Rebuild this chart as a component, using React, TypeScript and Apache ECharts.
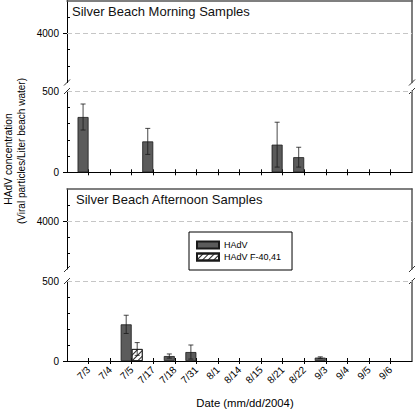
import React, { useEffect, useRef } from 'react';
import * as echarts from 'echarts';

// ---------- data ----------
const CATEGORIES = ['7/3', '7/4', '7/5', '7/17', '7/18', '7/31', '8/1', '8/14', '8/15', '8/21', '8/22', '9/3', '9/4', '9/5', '9/6'];
const SERIES_NAMES = ['HAdV', 'HAdV F-40,41'];

const MORNING_HADV = [340, null, null, 190, null, null, null, null, null, 170, 93, null, null, null, null];
const MORNING_HADV_ERR = [80, null, null, 80, null, null, null, null, null, 138, 61, null, null, null, null];
const MORNING_F = [null, null, null, null, null, null, null, null, null, null, null, null, null, null, null];
const MORNING_F_ERR = [null, null, null, null, null, null, null, null, null, null, null, null, null, null, null];

const AFTERNOON_HADV = [null, null, 229, null, 31, 56, null, null, null, null, null, 21, null, null, null];
const AFTERNOON_HADV_ERR = [null, null, 57, null, 13, 44, null, null, null, null, null, 5, null, null, null];
const AFTERNOON_F = [null, null, 75, null, null, null, null, null, null, null, null, null, null, null, null];
const AFTERNOON_F_ERR = [null, null, 40, null, null, null, null, null, null, null, null, null, null, null, null];

const PANEL_TITLES = ['Silver Beach Morning Samples', 'Silver Beach Afternoon Samples'];

// axis scales (broken axis: upper and lower segments)
const UPPER_MIN = 2500;
const UPPER_MAX = 5000;
const UPPER_INTERVAL = 500;
const UPPER_MINOR_TICKS = [3000, 3500, 4000, 4500];
const UPPER_MAJOR = [4000];
const LOWER_MIN = 0;
const LOWER_MAX = 500;
const LOWER_INTERVAL = 100;
const LOWER_MINOR_TICKS = [100, 200, 300, 400];
const LOWER_MAJOR = [0, 500];

const Y_TITLE_1 = 'HAdV concentration';
const Y_TITLE_2 = '(Viral particles/Liter beach water)';
const X_TITLE = 'Date (mm/dd/2004)';

// ---------- layout / style ----------
const W = 416;
const H = 409;
const LEFT = 67;
const RIGHT = 4;
const PANELS = [
  { upperTop: 0.5, upperHeight: 82, lowerTop: 91, lowerHeight: 81.3, titleTop: 4.5, titleLeft: 72 },
  { upperTop: 189, upperHeight: 80, lowerTop: 281, lowerHeight: 80, titleTop: 192.5, titleLeft: 76 },
];
const FONT = '"Liberation Sans", Arial, Helvetica, sans-serif';
const FRAME = '#555';
const BAR_W = 11;
const GRID_DASH = { type: [5, 3] as any, color: '#c6c6c6', width: 1 };

const pad = (arr: (number | null)[]) => [null, ...arr, null];
const PAD_CATS = ['', ...CATEGORIES, ''];

const errData = (vals: (number | null)[], errs: (number | null)[]) => {
  const out: number[][] = [];
  vals.forEach((v, i) => {
    const e = errs[i];
    if (v != null && e != null) out.push([i + 1, v - e, v + e]);
  });
  return out;
};

const makeErrRender = (sign: number) => (params: any, api: any) => {
  const x = api.value(0);
  const lo = api.coord([x, api.value(1)]);
  const hi = api.coord([x, api.value(2)]);
  const cx = lo[0] + (sign * BAR_W) / 2;
  const cap = 2.5;
  const style = { stroke: '#1a1a1a', lineWidth: 0.8 };
  return {
    type: 'group',
    children: [
      { type: 'line', shape: { x1: cx, y1: hi[1], x2: cx, y2: lo[1] }, style },
      { type: 'line', shape: { x1: cx - cap, y1: hi[1], x2: cx + cap, y2: hi[1] }, style },
      { type: 'line', shape: { x1: cx - cap, y1: lo[1], x2: cx + cap, y2: lo[1] }, style },
    ],
  };
};

function buildOption() {
  const grid: any[] = [];
  const xAxis: any[] = [];
  const yAxis: any[] = [];
  const series: any[] = [];
  const title: any[] = [];
  const graphic: any[] = [];

  const data = [
    { hadv: MORNING_HADV, hadvErr: MORNING_HADV_ERR, f: MORNING_F, fErr: MORNING_F_ERR },
    { hadv: AFTERNOON_HADV, hadvErr: AFTERNOON_HADV_ERR, f: AFTERNOON_F, fErr: AFTERNOON_F_ERR },
  ];

  const tickFilter = (index: number) => index !== 0 && index !== PAD_CATS.length - 1;
  const catBase = { type: 'category', data: PAD_CATS, boundaryGap: false, splitLine: { show: false } };
  const labelStyle = { fontSize: 10, fontFamily: FONT, color: '#000' };
  const plain = (v: number) => String(v);

  PANELS.forEach((p, pi) => {
    const gU = 2 * pi;
    const gL = 2 * pi + 1;
    grid.push({ left: LEFT, right: RIGHT, top: p.upperTop, height: p.upperHeight });
    grid.push({ left: LEFT, right: RIGHT, top: p.lowerTop, height: p.lowerHeight });

    const xU = xAxis.length;
    xAxis.push({
      ...catBase, gridIndex: gU, position: 'top',
      axisLine: { show: true, onZero: false, lineStyle: { color: FRAME, width: 1.5 } },
      axisTick: { show: false }, axisLabel: { show: false },
    });
    const xL = xAxis.length;
    xAxis.push({
      ...catBase, gridIndex: gL, position: 'bottom',
      axisLine: { show: true, onZero: false, lineStyle: { color: '#000', width: 1 } },
      axisTick: { show: true, inside: false, length: 3, interval: tickFilter, lineStyle: { color: '#000' } },
      axisLabel: pi === 1
        ? { show: true, interval: 0, rotate: 45, margin: 7, ...labelStyle }
        : { show: false },
    });
    xAxis.push({
      ...catBase, gridIndex: gL, position: 'bottom',
      axisLine: { show: false, onZero: false },
      axisTick: { show: true, inside: true, length: 3, interval: tickFilter, lineStyle: { color: '#000' } },
      axisLabel: { show: false },
    });

    const yU = yAxis.length;
    yAxis.push({
      type: 'value', gridIndex: gU, position: 'left', min: UPPER_MIN, max: UPPER_MAX, interval: UPPER_INTERVAL,
      axisLine: { show: true, onZero: false, lineStyle: { color: '#000', width: 1 } },
      axisTick: { show: true, inside: true, length: 3, customValues: UPPER_MINOR_TICKS, lineStyle: { color: '#000' } },
      axisLabel: { show: true, customValues: UPPER_MAJOR, margin: 8, formatter: plain, ...labelStyle },
      splitLine: { show: false },
    });
    yAxis.push({
      type: 'value', gridIndex: gU, position: 'left', min: UPPER_MIN, max: UPPER_MAX, interval: UPPER_INTERVAL,
      axisLine: { show: false, onZero: false },
      axisTick: { show: true, inside: false, length: 4, customValues: UPPER_MAJOR, lineStyle: { color: '#000' } },
      axisLabel: { show: false }, splitLine: { show: false },
    });
    yAxis.push({
      type: 'value', gridIndex: gU, position: 'right', min: UPPER_MIN, max: UPPER_MAX, interval: UPPER_INTERVAL,
      axisLine: { show: true, onZero: false, lineStyle: { color: FRAME, width: 1.5 } },
      axisTick: { show: false }, axisLabel: { show: false }, splitLine: { show: false },
    });
    const yL = yAxis.length;
    yAxis.push({
      type: 'value', gridIndex: gL, position: 'left', min: LOWER_MIN, max: LOWER_MAX, interval: LOWER_INTERVAL,
      axisLine: { show: true, onZero: false, lineStyle: { color: '#000', width: 1 } },
      axisTick: { show: true, inside: true, length: 3, customValues: LOWER_MINOR_TICKS, lineStyle: { color: '#000' } },
      axisLabel: { show: true, customValues: LOWER_MAJOR, margin: 8, formatter: plain, ...labelStyle },
      splitLine: { show: false },
    });
    yAxis.push({
      type: 'value', gridIndex: gL, position: 'left', min: LOWER_MIN, max: LOWER_MAX, interval: LOWER_INTERVAL,
      axisLine: { show: false, onZero: false },
      axisTick: { show: true, inside: false, length: 4, customValues: [LOWER_MIN], lineStyle: { color: '#000' } },
      axisLabel: { show: false }, splitLine: { show: false },
    });
    yAxis.push({
      type: 'value', gridIndex: gL, position: 'right', min: LOWER_MIN, max: LOWER_MAX, interval: LOWER_INTERVAL,
      axisLine: { show: true, onZero: false, lineStyle: { color: FRAME, width: 1.5 } },
      axisTick: { show: false }, axisLabel: { show: false }, splitLine: { show: false },
    });

    const d = data[pi];
    const markLineBase = {
      silent: true, symbol: ['none', 'none'], label: { show: false }, lineStyle: GRID_DASH, animation: false,
    };
    series.push({
      name: 'gridline-upper-' + pi, type: 'line', xAxisIndex: xU, yAxisIndex: yU, data: [],
      markLine: { ...markLineBase, data: [{ yAxis: UPPER_MAJOR[0] }] },
    });
    series.push({
      name: SERIES_NAMES[0], type: 'bar', xAxisIndex: xL, yAxisIndex: yL, data: pad(d.hadv),
      barWidth: BAR_W, barGap: '0%',
      itemStyle: { color: '#5b5b5b', borderColor: '#1a1a1a', borderWidth: 0.8 },
      markLine: { ...markLineBase, data: [{ yAxis: LOWER_MAX }] },
    });
    series.push({
      name: SERIES_NAMES[1], type: 'bar', xAxisIndex: xL, yAxisIndex: yL, data: pad(d.f),
      barWidth: BAR_W, barGap: '0%',
      itemStyle: {
        color: '#ffffff', borderColor: '#1a1a1a', borderWidth: 0.8,
        decal: { symbol: 'rect', symbolSize: 1, color: '#222', dashArrayX: [1, 0], dashArrayY: [1, 2.5], rotation: -Math.PI / 4 },
      },
    });
    series.push({
      name: 'err-hadv-' + pi, type: 'custom', xAxisIndex: xL, yAxisIndex: yL, z: 5,
      renderItem: makeErrRender(-1), data: errData(d.hadv, d.hadvErr), encode: { x: 0, y: [1, 2] },
    });
    series.push({
      name: 'err-f-' + pi, type: 'custom', xAxisIndex: xL, yAxisIndex: yL, z: 5,
      renderItem: makeErrRender(1), data: errData(d.f, d.fErr), encode: { x: 0, y: [1, 2] },
    });

    title.push({
      text: PANEL_TITLES[pi], left: p.titleLeft, top: p.titleTop, padding: 0,
      textStyle: { fontSize: 13, fontWeight: 'normal', fontFamily: FONT, color: '#111' },
    });

    // axis break marks on both sides
    const yBreaks = [p.upperTop + p.upperHeight, p.lowerTop];
    const xSides = [LEFT, W - RIGHT];
    xSides.forEach((bx) => {
      yBreaks.forEach((by) => {
        graphic.push({
          type: 'line', silent: true,
          shape: { x1: bx - 3, y1: by + 3, x2: bx + 3, y2: by - 3 },
          style: { stroke: '#333', lineWidth: 1 },
        });
      });
    });
  });

  graphic.push({
    type: 'text', x: 8, y: 159, rotation: Math.PI / 2,
    style: { text: Y_TITLE_1, align: 'center', verticalAlign: 'middle', font: `10.3px ${FONT}`, fill: '#000' },
  });
  graphic.push({
    type: 'text', x: 21, y: 151, rotation: Math.PI / 2,
    style: { text: Y_TITLE_2, align: 'center', verticalAlign: 'middle', font: `10px ${FONT}`, fill: '#000' },
  });
  graphic.push({
    type: 'text', x: 245, y: 403,
    style: { text: X_TITLE, align: 'center', verticalAlign: 'middle', font: `11.3px ${FONT}`, fill: '#000' },
  });

  return {
    animation: false,
    backgroundColor: '#fff',
    title,
    grid,
    xAxis,
    yAxis,
    series,
    graphic,
    legend: {
      data: SERIES_NAMES, orient: 'vertical', left: 189, top: 232,
      itemWidth: 22, itemHeight: 7, itemGap: 0, padding: [7, 11, 7, 7],
      borderColor: '#000', borderWidth: 1, backgroundColor: '#fff', borderRadius: 0,
      selectedMode: false, icon: 'rect',
      textStyle: { fontSize: 9, fontFamily: FONT, color: '#000', lineHeight: 12 },
    },
  };
}

export default function App() {
  const ref = useRef<HTMLDivElement>(null);
  useEffect(() => {
    if (!ref.current) return;
    const chart = echarts.init(ref.current, undefined, { renderer: 'svg' });
    chart.setOption(buildOption() as any);
    return () => chart.dispose();
  }, []);
  return <div ref={ref} style={{ position: 'fixed', left: 0, top: 0, width: W, height: H }} />;
}
